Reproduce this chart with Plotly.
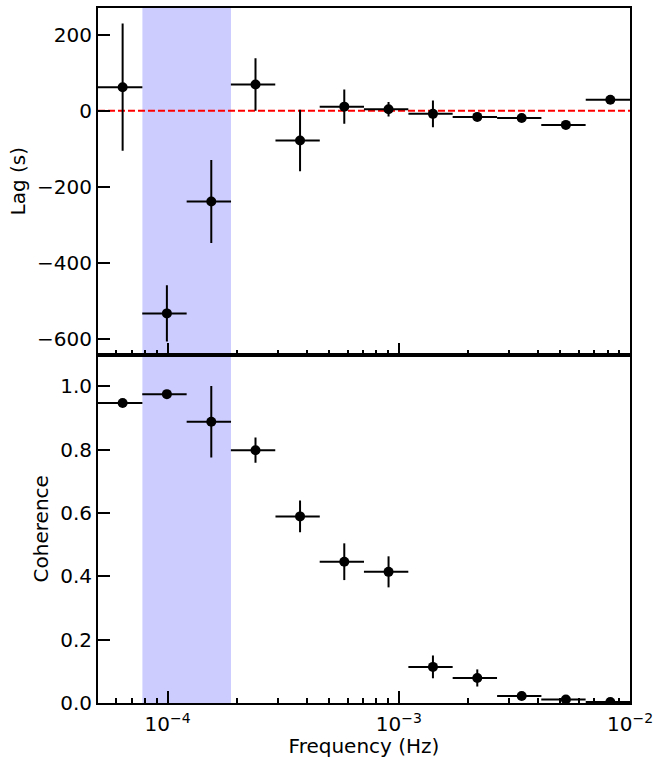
import math
import plotly.graph_objects as go

# ---- data ----
freq = [6.39e-5, 9.93e-5, 1.545e-4, 2.40e-4, 3.74e-4, 5.81e-4, 9.03e-4,
        1.405e-3, 2.185e-3, 3.40e-3, 5.28e-3, 8.22e-3]
freq_err = [1.39e-5, 2.16e-5, 3.36e-5, 5.22e-5, 8.12e-5, 1.262e-4, 1.963e-4,
            3.05e-4, 4.75e-4, 7.38e-4, 1.148e-3, 1.785e-3]
lag = [62, -532, -238, 69, -78, 11, 4, -8, -16, -19, -37, 29]
lag_err = [167, 74, 109, 69, 81, 45, 19, 35, 10, 5, 5, 5]
coh = [0.947, 0.975, 0.888, 0.798, 0.589, 0.446, 0.414, 0.114, 0.079, 0.022, 0.011, 0.003]
coh_err = [0.008, 0.006, 0.113, 0.040, 0.050, 0.058, 0.049, 0.036, 0.027, 0.006, 0.004, 0.002]
band = [7.78e-5, 1.88e-4]          # shaded frequency band
x_range = [5e-5, 1e-2]
xtick_vals = [1e-4, 1e-3, 1e-2]
xtick_text = ["10<sup>\u22124</sup>", "10<sup>\u22123</sup>", "10<sup>\u22122</sup>"]
lag_ticks = [-600, -400, -200, 0, 200]
coh_ticks = [0.0, 0.2, 0.4, 0.6, 0.8, 1.0]

minor_vals = [m * 10 ** e for e in (-5, -4, -3) for m in range(2, 10)]

FONT = "DejaVu Sans"
fig = go.Figure()

# zero line in lag panel
fig.add_trace(go.Scatter(x=x_range, y=[0, 0], mode="lines",
                         line=dict(color="#ff0000", width=2, dash="7px,3px"),
                         xaxis="x", yaxis="y", showlegend=False, hoverinfo="skip"))

fig.add_trace(go.Scatter(
    x=freq, y=lag, mode="markers", xaxis="x", yaxis="y",
    marker=dict(color="black", size=10),
    error_x=dict(type="data", array=freq_err, color="black", thickness=2, width=0),
    error_y=dict(type="data", array=lag_err, color="black", thickness=2, width=0),
    showlegend=False))

fig.add_trace(go.Scatter(
    x=freq, y=coh, mode="markers", xaxis="x2", yaxis="y2",
    marker=dict(color="black", size=10),
    error_x=dict(type="data", array=freq_err, color="black", thickness=2, width=0),
    error_y=dict(type="data", array=coh_err, color="black", thickness=2, width=0),
    showlegend=False))

for xr, yr in (("x", "y"), ("x2", "y2")):
    fig.add_shape(type="rect", xref=xr, yref=yr + " domain",
                  x0=band[0], x1=band[1], y0=0, y1=1,
                  fillcolor="rgb(204,204,255)", line=dict(width=0), layer="below")

axis_common = dict(showline=True, linecolor="black", linewidth=2, mirror=True,
                   ticks="inside", tickcolor="black", tickwidth=2, ticklen=12,
                   showgrid=False, zeroline=False, ticklabeloverflow="allow",
                   tickfont=dict(family=FONT, size=20, color="black"))

xcommon = dict(type="log", range=[math.log10(x_range[0]), math.log10(x_range[1])],
               tickmode="array", tickvals=xtick_vals, ticktext=xtick_text,
               minor=dict(ticks="inside", ticklen=5, tickwidth=1.5, tickcolor="black",
                          tickmode="array", tickvals=minor_vals, showgrid=False),
               **axis_common)

fig.update_layout(
    width=659, height=758,
    margin=dict(l=98, r=24, t=6, b=55),
    paper_bgcolor="white", plot_bgcolor="white",
    font=dict(family=FONT, size=20, color="black"),
    xaxis=dict(domain=[0, 1], anchor="y", showticklabels=False, **xcommon),
    yaxis=dict(domain=[0.5014, 1], anchor="x", range=[-640, 270],
               tickmode="array", tickvals=lag_ticks,
               title=dict(text="Lag (s)", font=dict(family=FONT, size=20), standoff=6),
               **axis_common),
    xaxis2=dict(domain=[0, 1], anchor="y2", matches="x", ticklabelstandoff=2,
                title=dict(text="Frequency (Hz)", font=dict(family=FONT, size=20), standoff=2),
                **xcommon),
    yaxis2=dict(domain=[0, 0.5014], anchor="x2", range=[0, 1.10],
                tickmode="array", tickvals=coh_ticks, tickformat=".1f",
                title=dict(text="Coherence", font=dict(family=FONT, size=20), standoff=6),
                **axis_common),
)

fig.write_html("out.html", config={"displayModeBar": False},
               post_script="document.body.style.margin='0';document.body.style.overflow='hidden';")
